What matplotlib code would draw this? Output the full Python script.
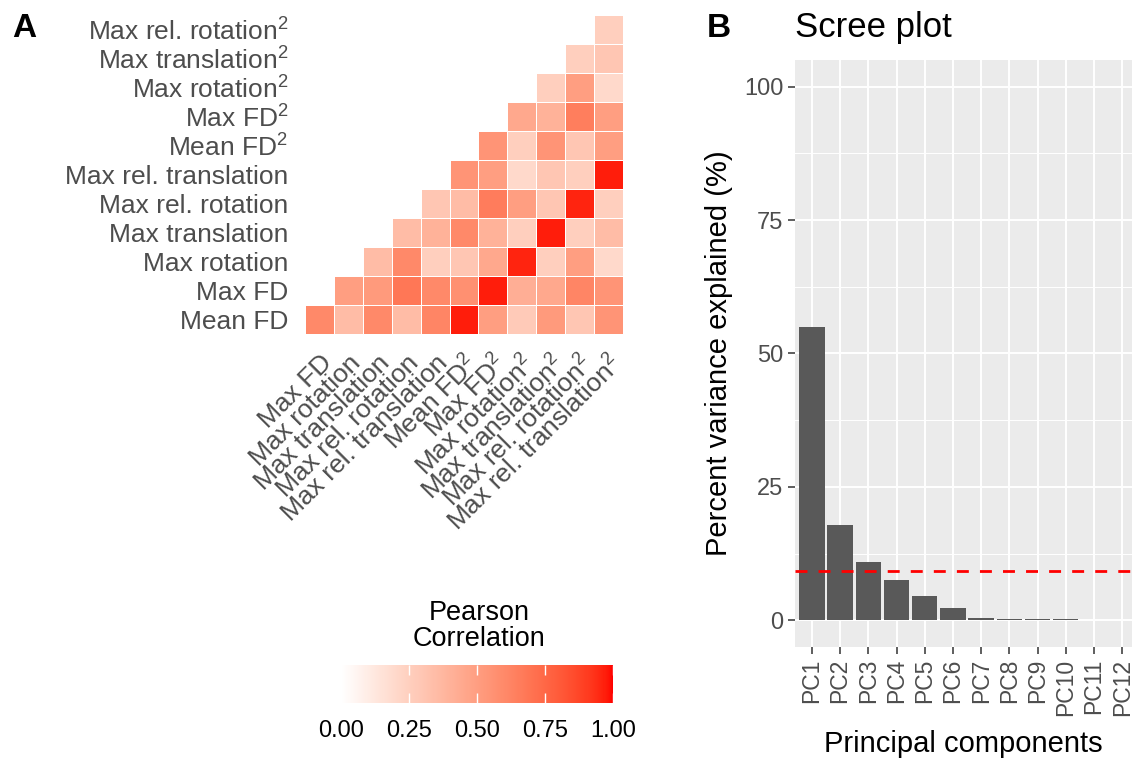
import numpy as np
import matplotlib
matplotlib.use("Agg")
import matplotlib.pyplot as plt
from matplotlib.colors import ListedColormap

plt.rcParams['font.family'] = ['Liberation Sans', 'DejaVu Sans']
plt.rcParams['mathtext.fontset'] = 'custom'
plt.rcParams['mathtext.rm'] = 'Liberation Sans'
plt.rcParams['mathtext.it'] = 'Liberation Sans'

# motion variables (order used for both axes of the triangle)
variables = ['Mean FD', 'Max FD', 'Max rotation', 'Max translation',
             'Max rel. rotation', 'Max rel. translation',
             r'Mean FD$^{2}$', r'Max FD$^{2}$', r'Max rotation$^{2}$',
             r'Max translation$^{2}$', r'Max rel. rotation$^{2}$',
             r'Max rel. translation$^{2}$']

# upper triangle, one row per y variable (Mean FD ... Max rel. rotation^2)
corr_rows = [
    [0.60, 0.35, 0.60, 0.35, 0.62, 0.97, 0.50, 0.28, 0.52, 0.30, 0.55],
    [0.50, 0.52, 0.68, 0.60, 0.57, 0.97, 0.42, 0.45, 0.62, 0.55],
    [0.35, 0.60, 0.25, 0.30, 0.45, 0.96, 0.25, 0.50, 0.20],
    [0.35, 0.40, 0.60, 0.40, 0.25, 0.97, 0.25, 0.35],
    [0.30, 0.35, 0.66, 0.50, 0.30, 0.96, 0.25],
    [0.55, 0.50, 0.20, 0.30, 0.25, 0.97],
    [0.55, 0.25, 0.55, 0.30, 0.50],
    [0.45, 0.40, 0.65, 0.50],
    [0.25, 0.50, 0.20],
    [0.25, 0.30],
    [0.25],
]

pcs = ['PC%d' % i for i in range(1, 13)]
pct_var = [55.0, 17.9, 10.9, 7.6, 4.6, 2.4, 0.4, 0.3, 0.22, 0.18, 0.12, 0.08]
cutoff = 9.3


# white -> red gradient interpolated in Lab (like ggplot's scale_fill_gradient)
M = np.array([[0.4124, 0.3576, 0.1805], [0.2126, 0.7152, 0.0722], [0.0193, 0.1192, 0.9505]])
WHITE = np.array([0.95047, 1.0, 1.08883])


def to_lab(rgb):
    rgb = np.asarray(rgb, float)
    lin = np.where(rgb <= 0.04045, rgb / 12.92, ((rgb + 0.055) / 1.055) ** 2.4)
    xyz = M @ lin / WHITE
    f = np.where(xyz > 0.008856, np.cbrt(xyz), 7.787 * xyz + 16 / 116)
    return np.array([116 * f[1] - 16, 500 * (f[0] - f[1]), 200 * (f[1] - f[2])])


def from_lab(lab):
    fy = (lab[0] + 16) / 116
    f = np.array([fy + lab[1] / 500, fy, fy - lab[2] / 200])
    xyz = np.where(f ** 3 > 0.008856, f ** 3, (f - 16 / 116) / 7.787) * WHITE
    lin = np.clip(np.linalg.inv(M) @ xyz, 0, None)
    rgb = np.where(lin <= 0.0031308, 12.92 * lin, 1.055 * lin ** (1 / 2.4) - 0.055)
    return np.clip(rgb, 0, 1)


lab0, lab1 = to_lab([1, 1, 1]), to_lab([1, 0, 0])
cmap = ListedColormap([from_lab(lab0 + t * (lab1 - lab0)) for t in np.linspace(0, 1, 256)])

W, H = 1132, 758
fig = plt.figure(figsize=(W / 100, H / 100), dpi=100)


def px_axes(x0, y0, x1, y1):
    return fig.add_axes([x0 / W, 1 - y1 / H, (x1 - x0) / W, (y1 - y0) / H])


# ---- panel A: correlation triangle
n = len(corr_rows)
Z = np.full((n, n), np.nan)
for i, row in enumerate(corr_rows):
    for k, v in enumerate(row):
        Z[i, i + k] = v
Z = np.ma.masked_invalid(Z)

axA = px_axes(305, 15, 623, 334)
mesh = axA.pcolormesh(np.arange(n + 1), np.arange(n + 1), Z, cmap=cmap, vmin=0, vmax=1,
                      edgecolors='white', linewidth=0.7)
axA.set_xlim(0, n)
axA.set_ylim(0, n)
for s in axA.spines.values():
    s.set_visible(False)
axA.set_yticks(np.arange(n) + 0.5)
axA.set_yticklabels(variables[:n], fontsize=19, color='#4D4D4D')
axA.set_xticks(np.arange(n) + 0.5)
axA.set_xticklabels(variables[1:], fontsize=19, color='#4D4D4D', rotation=45,
                    ha='right', va='top', rotation_mode='anchor')
axA.tick_params(length=0, pad=12)
fig.text(12 / W, 1 - 37 / H, 'A', fontsize=24, fontweight='bold')

# colour bar
cax = px_axes(341, 665, 613, 703)
cb = fig.colorbar(mesh, cax=cax, orientation='horizontal', ticks=[0, 0.25, 0.5, 0.75, 1])
cb.outline.set_visible(False)
cb.ax.set_xticklabels(['0.00', '0.25', '0.50', '0.75', '1.00'], fontsize=17)
cb.ax.tick_params(direction='in', colors='white', length=7, width=1, top=True, bottom=True,
                  labelcolor='black', pad=12)
fig.text(479.5 / W, 1 - 652 / H, 'Pearson\nCorrelation', ha='center', va='bottom',
         fontsize=19.5, linespacing=1.0)

# ---- panel B: scree plot
axB = px_axes(795, 60, 1132, 647)
axB.set_facecolor('#EBEBEB')
x = np.arange(1, len(pcs) + 1)
axB.bar(x, pct_var, width=0.9, color='#595959', zorder=3)
axB.axhline(cutoff, color='red', linewidth=2, dashes=(4.3, 4), zorder=4)
axB.set_xlim(0.4, 12.35)
axB.set_ylim(-5, 105)
axB.set_yticks([0, 25, 50, 75, 100])
axB.set_yticks([12.5, 37.5, 62.5, 87.5], minor=True)
axB.set_xticks(x)
axB.set_xticklabels(pcs, rotation=90, fontsize=16.5, color='#4D4D4D')
axB.tick_params(axis='y', labelsize=17, labelcolor='#4D4D4D')
axB.tick_params(which='major', color='#333333', length=5, width=1.1)
axB.tick_params(which='minor', length=0)
axB.grid(which='major', color='white', linewidth=1.4, zorder=0)
axB.grid(which='minor', axis='y', color='white', linewidth=0.7, zorder=0)
axB.set_axisbelow(True)
for s in axB.spines.values():
    s.set_visible(False)
axB.set_xlabel('Principal components', fontsize=21, labelpad=10)
axB.set_ylabel('Percent variance explained (%)', fontsize=21, labelpad=8)
fig.text(707 / W, 1 - 37 / H, 'B', fontsize=24, fontweight='bold')
fig.text(795 / W, 1 - 37 / H, 'Scree plot', fontsize=25)

fig.savefig('out.png', dpi=100)
